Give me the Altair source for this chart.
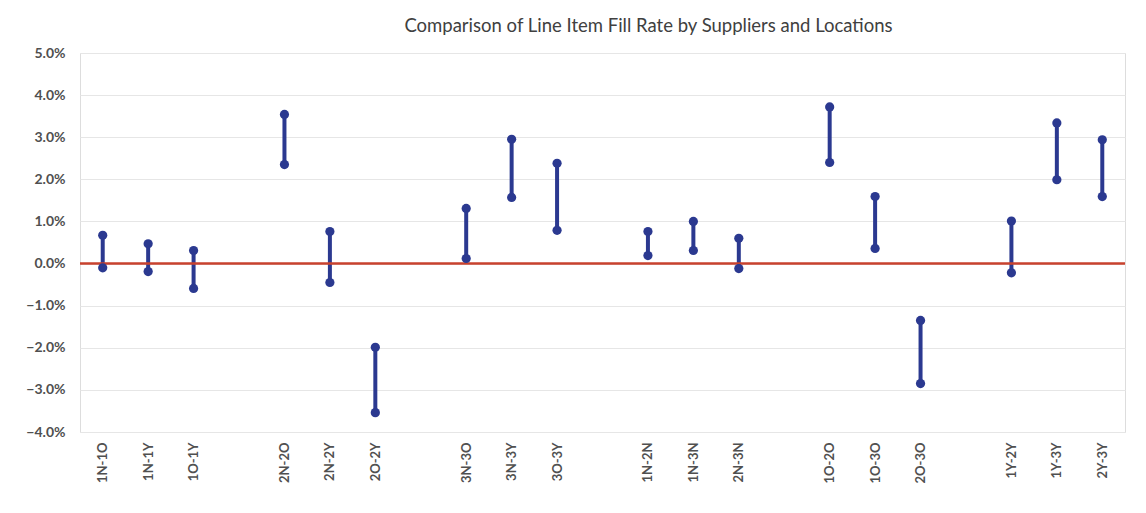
import altair as alt
import pandas as pd

# Comparison pairs in display order; blank slots separate the six groups
slots = [
    "1N-1O", "1N-1Y", "1O-1Y", "gap1",
    "2N-2O", "2N-2Y", "2O-2Y", "gap2",
    "3N-3O", "3N-3Y", "3O-3Y", "gap3",
    "1N-2N", "1N-3N", "2N-3N", "gap4",
    "1O-2O", "1O-3O", "2O-3O", "gap5",
    "1Y-2Y", "1Y-3Y", "2Y-3Y",
]
pairs = [s for s in slots if not s.startswith("gap")]

# Interval bounds of the fill-rate difference (fraction)
low = [-0.001, -0.0019, -0.0059,
       0.0235, -0.0045, -0.0354,
       0.0012, 0.0157, 0.0079,
       0.0019, 0.0031, -0.0012,
       0.0240, 0.0036, -0.0285,
       -0.0022, 0.0199, 0.0159]
high = [0.0067, 0.0047, 0.0031,
        0.0354, 0.0076, -0.0199,
        0.0131, 0.0295, 0.0238,
        0.0076, 0.0100, 0.0060,
        0.0372, 0.0159, -0.0135,
        0.0101, 0.0334, 0.0294]

y_ticks = [-0.04, -0.03, -0.02, -0.01, 0.0, 0.01, 0.02, 0.03, 0.04, 0.05]

df = pd.DataFrame({"pair": pairs, "low": low, "high": high})
pts = pd.concat([
    pd.DataFrame({"pair": pairs, "value": low}),
    pd.DataFrame({"pair": pairs, "value": high}),
])
zero = pd.DataFrame({"value": [0.0]})

navy = "#2B3990"
font = "Lato"

x_scale = alt.Scale(domain=slots, type="point", padding=0.5)
x_enc = alt.X(
    "pair:N",
    sort=slots,
    scale=x_scale,
    axis=alt.Axis(
        title=None, labelAngle=270, ticks=False, domain=False,
        labelExpr="indexof(datum.value, 'gap') == 0 ? '' : datum.value",
        labelPadding=10, labelFont=font, labelFontSize=13,
        labelFontWeight="bold", labelColor="#505050", grid=False,
    ),
)
y_scale = alt.Scale(domain=[-0.04, 0.05], nice=False)

zero_line = alt.Chart(zero).mark_rule(color="#C8422E", strokeWidth=2.5).encode(
    y=alt.Y("value:Q", scale=y_scale)
)

bars = alt.Chart(df).mark_rule(color=navy, strokeWidth=4).encode(
    x=x_enc,
    y=alt.Y(
        "low:Q", scale=y_scale,
        axis=alt.Axis(
            title=None, values=y_ticks, format=".1%", ticks=False,
            domain=False, gridColor="#E6E6E6", gridWidth=1,
            labelFont=font, labelFontSize=14, labelFontWeight="bold",
            labelColor="#505050", labelPadding=15,
        ),
    ),
    y2="high:Q",
)

dots = alt.Chart(pts).mark_circle(color=navy, size=85, opacity=1).encode(
    x=alt.X("pair:N", sort=slots, scale=x_scale),
    y=alt.Y("value:Q", scale=y_scale),
)

chart = alt.layer(bars, zero_line, dots).properties(
    width=1045,
    height=379,
    title=alt.Title(
        "Comparison of Line Item Fill Rate by Suppliers and Locations",
        font=font, fontSize=18.5, fontWeight="normal", color="#404040",
        anchor="middle", dx=46, offset=11,
    ),
    padding={"left": 80, "top": 53, "right": 21, "bottom": 81},
    autosize=alt.AutoSizeParams(type="none"),
).configure_view(stroke=None).configure(background="white")

chart.save("out.html", embed_options={"renderer": "svg", "actions": False})
